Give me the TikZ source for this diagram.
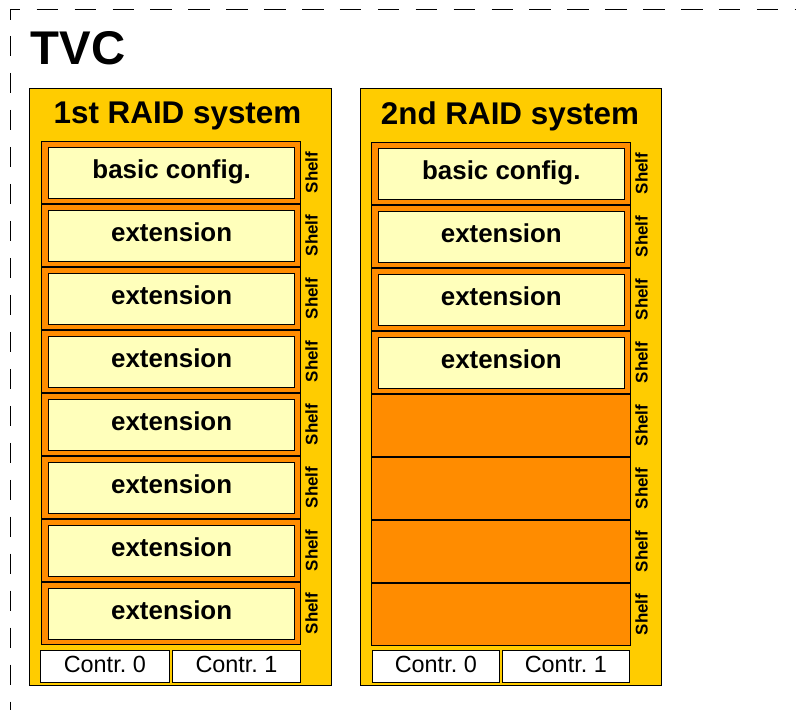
\documentclass[tikz,border=0pt]{standalone}
\usepackage{fontspec}
\setmainfont{Liberation Sans}
\definecolor{raidyellow}{HTML}{FFCC00}
\definecolor{shelforange}{HTML}{FF8C00}
\definecolor{disklight}{HTML}{FFFFBB}
\tikzset{
  frameline/.style={draw=black, line width=1bp},
  sysbox/.style={draw=black, fill=raidyellow, line width=1bp, inner sep=0pt, outer sep=0pt, anchor=north west},
  shelfbox/.style={draw=black, fill=shelforange, line width=1.1bp, minimum width=259.5, minimum height=63, inner sep=0pt, outer sep=0pt},
  diskbox/.style={draw=black, fill=disklight, line width=1.1bp, minimum width=246.5, minimum height=51.5, inner sep=0pt, outer sep=0pt,
    font=\bfseries\fontsize{26}{26}\selectfont, text height=15, text depth=4},
  ctrlbox/.style={draw=black, fill=white, line width=1bp, minimum height=32.3, inner sep=0pt, outer sep=0pt,
    font=\fontsize{23.5}{23.5}\selectfont, text height=16.5, text depth=4},
  shelflabel/.style={rotate=90, inner sep=0pt, font=\bfseries\fontsize{17}{17}\selectfont},
  systitle/.style={anchor=base, inner sep=0pt, font=\bfseries\fontsize{31.5}{31.5}\selectfont},
}
\begin{document}
\begin{tikzpicture}[x=1bp, y=-1bp]
\useasboundingbox (0,0) rectangle (796,710);

% dashed outline of the TVC (only its top and left sides are in view),
% drawn dash by dash: corner piece, then the top and left runs
\coordinate (frameNW) at (10.5,9.5);
\draw[frameline] (10.5,19.7) -- (frameNW) -- (20.2,9.5);
\foreach \k in {0,...,20}
  \draw[frameline] (36.7+37.9*\k, 9.5) -- (58.2+37.9*\k, 9.5);
\foreach \k in {0,...,18}
  \draw[frameline] (10.5, 36+36.98*\k) -- (10.5, 56.5+36.98*\k);

\node[anchor=base west, inner sep=0pt, font=\bfseries\fontsize{47.5}{47.5}\selectfont] (tvc) at (30.5,65) {TVC};

% first RAID system: eight shelves
\node[sysbox, minimum width=303, minimum height=599] (sysA) at (29.5,88.5) {};
\node[systitle] (titleA) at (177.5,123.3) {1st RAID system};
\foreach \i in {0,...,7} {
  \node[shelfbox] (sA\i) at (171, 172.5+63*\i) {};
  \node[shelflabel] (lA\i) at (311.5, 172.5+63*\i) {Shelf};
}
\node[diskbox] (dA0) at (171.65, 173.1) {basic config.};
\foreach \i in {1,...,7} {
  \node[diskbox] (dA\i) at (171.65, 173.1+63*\i) {extension};
}
\node[ctrlbox, minimum width=129] (cA0) at (104.8,666.2) {Contr.~0};
\node[ctrlbox, minimum width=128.4] (cA1) at (236.5,666.2) {Contr.~1};

% second RAID system: four shelves in use, four empty
\node[sysbox, minimum width=302, minimum height=598.5] (sysB) at (360.5,89) {};
\node[systitle] (titleB) at (510,124.3) {2nd RAID system};
\foreach \i in {0,...,7} {
  \node[shelfbox] (sB\i) at (500.85, 173.5+63*\i) {};
  \node[shelflabel] (lB\i) at (641.5, 173.5+63*\i) {Shelf};
}
\node[diskbox] (dB0) at (501.3, 174.1) {basic config.};
\foreach \i in {1,...,3} {
  \node[diskbox] (dB\i) at (501.3, 174.1+63*\i) {extension};
}
\node[ctrlbox, minimum width=127] (cB0) at (435.8,666.3) {Contr.~0};
\node[ctrlbox, minimum width=127] (cB1) at (565.8,666.3) {Contr.~1};
\end{tikzpicture}
\end{document}
